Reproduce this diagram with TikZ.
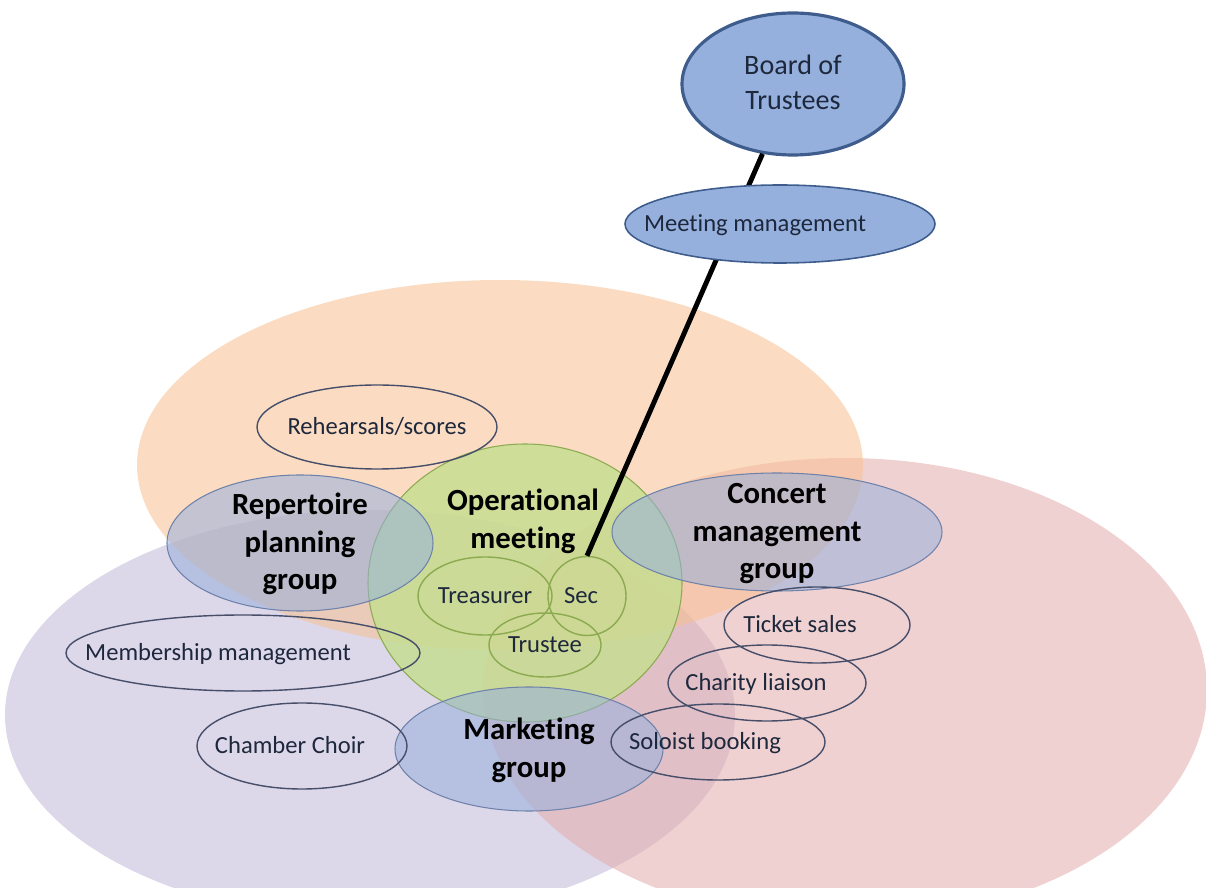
\documentclass[tikz,border=0pt]{standalone}
\usepackage{fontspec}
\setmainfont{Carlito}[Ligatures=NoCommon]
\usetikzlibrary{shapes.geometric}

\definecolor{peach}{RGB}{247,192,145}
\definecolor{rose}{RGB}{228,172,172}
\definecolor{lilac}{RGB}{192,182,215}
\definecolor{leaf}{RGB}{198,222,146}
\definecolor{leafline}{RGB}{140,170,80}
\definecolor{sky}{RGB}{150,176,222}
\definecolor{skyline}{RGB}{110,130,170}
\definecolor{navy}{RGB}{62,92,140}
\definecolor{ink}{RGB}{70,78,105}
\definecolor{darktext}{RGB}{30,40,60}

% text that does not size the ellipse around it; #1 moves it sideways
\newcommand{\eltext}[2][0pt]{\makebox[0pt]{\kern#1\kern#1\smash{\raisebox{-0.3em}{\begin{tabular}{@{}c@{}}#2\end{tabular}}}}}

\tikzset{
    zone/.style={ellipse, fill=#1, fill opacity=0.55, draw=none, inner sep=0pt},
    team/.style={ellipse, fill=sky, fill opacity=0.55, text opacity=1, draw=skyline, line width=0.6pt,
        inner sep=0pt, font=\fontsize{17.5}{21.5}\selectfont\bfseries},
    task/.style={ellipse, draw=ink, line width=0.8pt, inner sep=0pt, text=darktext,
        font=\fontsize{14}{17}\selectfont},
    role/.style={ellipse, draw=leafline, line width=0.8pt, inner sep=0pt, text=darktext,
        font=\fontsize{14}{17}\selectfont},
    board/.style={ellipse, fill=sky, draw=navy, inner sep=0pt, text=darktext,
        font=\fontsize{16}{20}\selectfont}
}

\begin{document}
\begin{tikzpicture}
    \clip (0,0) rectangle (24.12,-17.76);

    % the three big areas
    \node[zone=lilac, minimum width=14.6cm, minimum height=8.2cm] (members) at (7.4,-14.3) {};
    \node[zone=rose, minimum width=14.48cm, minimum height=9.28cm] (concerts) at (16.9,-13.8) {};
    \node[zone=peach, minimum width=14.52cm, minimum height=7.4cm] (music) at (10,-9.3) {};

    % operational meeting
    \node[ellipse, fill=leaf, fill opacity=0.85, draw=leafline, line width=0.6pt,
        minimum width=6.28cm, minimum height=5.56cm] (ops) at (10.5,-11.66) {};
    \node[font=\fontsize{17.5}{21.5}\selectfont\bfseries, align=center] (opstext) at (10.46,-10.42)
        {Operational\\meeting};

    % groups
    \node[team, minimum width=5.32cm, minimum height=2.72cm] (rep) at (6,-10.86)
        {\eltext{Repertoire\\planning\\group}};
    \node[team, minimum width=6.6cm, minimum height=2.36cm] (concert) at (15.54,-10.64)
        {\eltext{Concert\\management\\group}};
    \node[team, minimum width=5.36cm, minimum height=2.48cm] (marketing) at (10.58,-14.98)
        {\eltext{Marketing\\group}};

    % tasks
    \node[task, minimum width=4.8cm, minimum height=1.68cm] (rehearsals) at (7.54,-8.54)
        {\eltext{Rehearsals/scores}};
    \node[task, minimum width=7.08cm, minimum height=1.52cm] (membership) at (4.86,-13.06)
        {\eltext[-0.5cm]{Membership management}};
    \node[task, minimum width=4.2cm, minimum height=1.72cm] (choir) at (6.04,-14.92)
        {\eltext[-0.24cm]{Chamber Choir}};
    \node[task, minimum width=3.72cm, minimum height=1.52cm] (tickets) at (16.34,-12.5)
        {\eltext[-0.34cm]{Ticket sales}};
    \node[task, minimum width=3.96cm, minimum height=1.52cm] (charity) at (15.34,-13.66)
        {\eltext[-0.22cm]{Charity liaison}};
    \node[task, minimum width=4.28cm, minimum height=1.52cm] (soloist) at (14.36,-14.84)
        {\eltext[-0.26cm]{Soloist booking}};

    % officers
    \node[role, minimum width=2.68cm, minimum height=1.56cm] (treasurer) at (9.7,-11.92)
        {\eltext{Treasurer}};
    \node[role, minimum width=1.56cm, minimum height=1.58cm] (sec) at (11.74,-11.92)
        {\eltext[-0.12cm]{Sec}};
    \node[role, minimum width=2.24cm, minimum height=1.28cm] (trustee) at (10.9,-12.9)
        {\eltext{Trustee}};

    % trustees on top
    \node[board, line width=1.8pt, minimum width=4.44cm, minimum height=2.84cm] (board) at (15.86,-1.68)
        {\eltext{Board of\\Trustees}};
    \draw[line width=2.8pt] (board) -- (sec.north);
    \node[board, line width=0.9pt, minimum width=6.2cm, minimum height=1.56cm,
        font=\fontsize{14}{17}\selectfont] (meeting) at (15.6,-4.48)
        {\eltext[-0.5cm]{Meeting management}};
\end{tikzpicture}
\end{document}
